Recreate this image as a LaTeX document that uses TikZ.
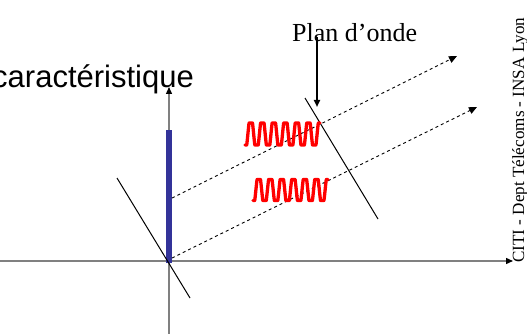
\documentclass[tikz,border=0pt]{standalone}
\usepackage{fontspec}
\usepackage{graphicx}
\setmainfont{Liberation Serif}
\newfontfamily\arialfont{Liberation Sans}
\usetikzlibrary{arrows.meta}
\definecolor{axisgray}{HTML}{808080}
\definecolor{barblue}{HTML}{333399}
\tikzset{
  axis/.style={draw=axisgray, line width=1.3pt, -{Triangle[length=7pt,width=6pt,color=black]}},
  bluebar/.style={draw=barblue, line width=5.5pt},
  rayline/.style={draw=black, line width=0.9pt, dash pattern=on 3pt off 3pt, -{Triangle[length=8pt,width=7pt]}},
  planeline/.style={draw=black, line width=1pt},
  wavy/.style={draw=red, line width=3.3pt, line join=round, line cap=round},
  pointer/.style={draw=black, line width=2.2pt, -{Triangle[length=7pt,width=6pt]}},
}
\begin{document}
\begin{tikzpicture}[x=1pt,y=-1pt]
\useasboundingbox (0,0) rectangle (527,334);
% axes
\coordinate (xl) at (0,261);
\coordinate (xr) at (513,261);
\coordinate (yb) at (169,334);
\coordinate (yt) at (169,87);
\draw[axis] (xl) -- (xr);
\draw[axis] (yb) -- (yt);
% blue bar
\coordinate (bb) at (169,263);
\coordinate (bt) at (169,130);
\draw[bluebar] (bb) -- (bt);
% wave planes
\coordinate (p1a) at (117,178);
\coordinate (p1b) at (190,298);
\coordinate (p2a) at (305,98);
\coordinate (p2b) at (378,219);
\draw[planeline] (p1a) -- (p1b);
\draw[planeline] (p2a) -- (p2b);
% rays
\coordinate (r1s) at (172,198);
\coordinate (r1e) at (457,56);
\coordinate (r2s) at (172,258);
\coordinate (r2e) at (477,107);
\draw[rayline] (r1s) -- (r1e);
\draw[rayline] (r2s) -- (r2e);
% red wave packets
\draw[wavy] plot[domain=0:75, samples=300] ({245+\x},{134+11*min(1,max(-1,1.7*cos(31.2*\x)))});
\draw[wavy] plot[domain=0:75, samples=300] ({253+\x},{190+10.5*min(1,max(-1,1.7*cos(31.2*\x)))});
% labels
\node[anchor=base east, inner sep=0pt, font=\arialfont\fontsize{31}{36}\selectfont] (carac) at (194,88) {caractéristique};
\node[anchor=base west, inner sep=0pt, font=\fontsize{26}{30}\selectfont] (plan) at (292,42) {Plan d’onde};
\coordinate (ps) at (317,37);
\coordinate (pe) at (317,107);
\draw[pointer] (ps) -- (pe);
\node[anchor=base west, inner sep=0pt, rotate=90] (citi) at (524,263) {\resizebox{245pt}{!}{\fontsize{17}{20}\selectfont CITI - Dept Télécoms - INSA Lyon}};
\end{tikzpicture}
\end{document}
